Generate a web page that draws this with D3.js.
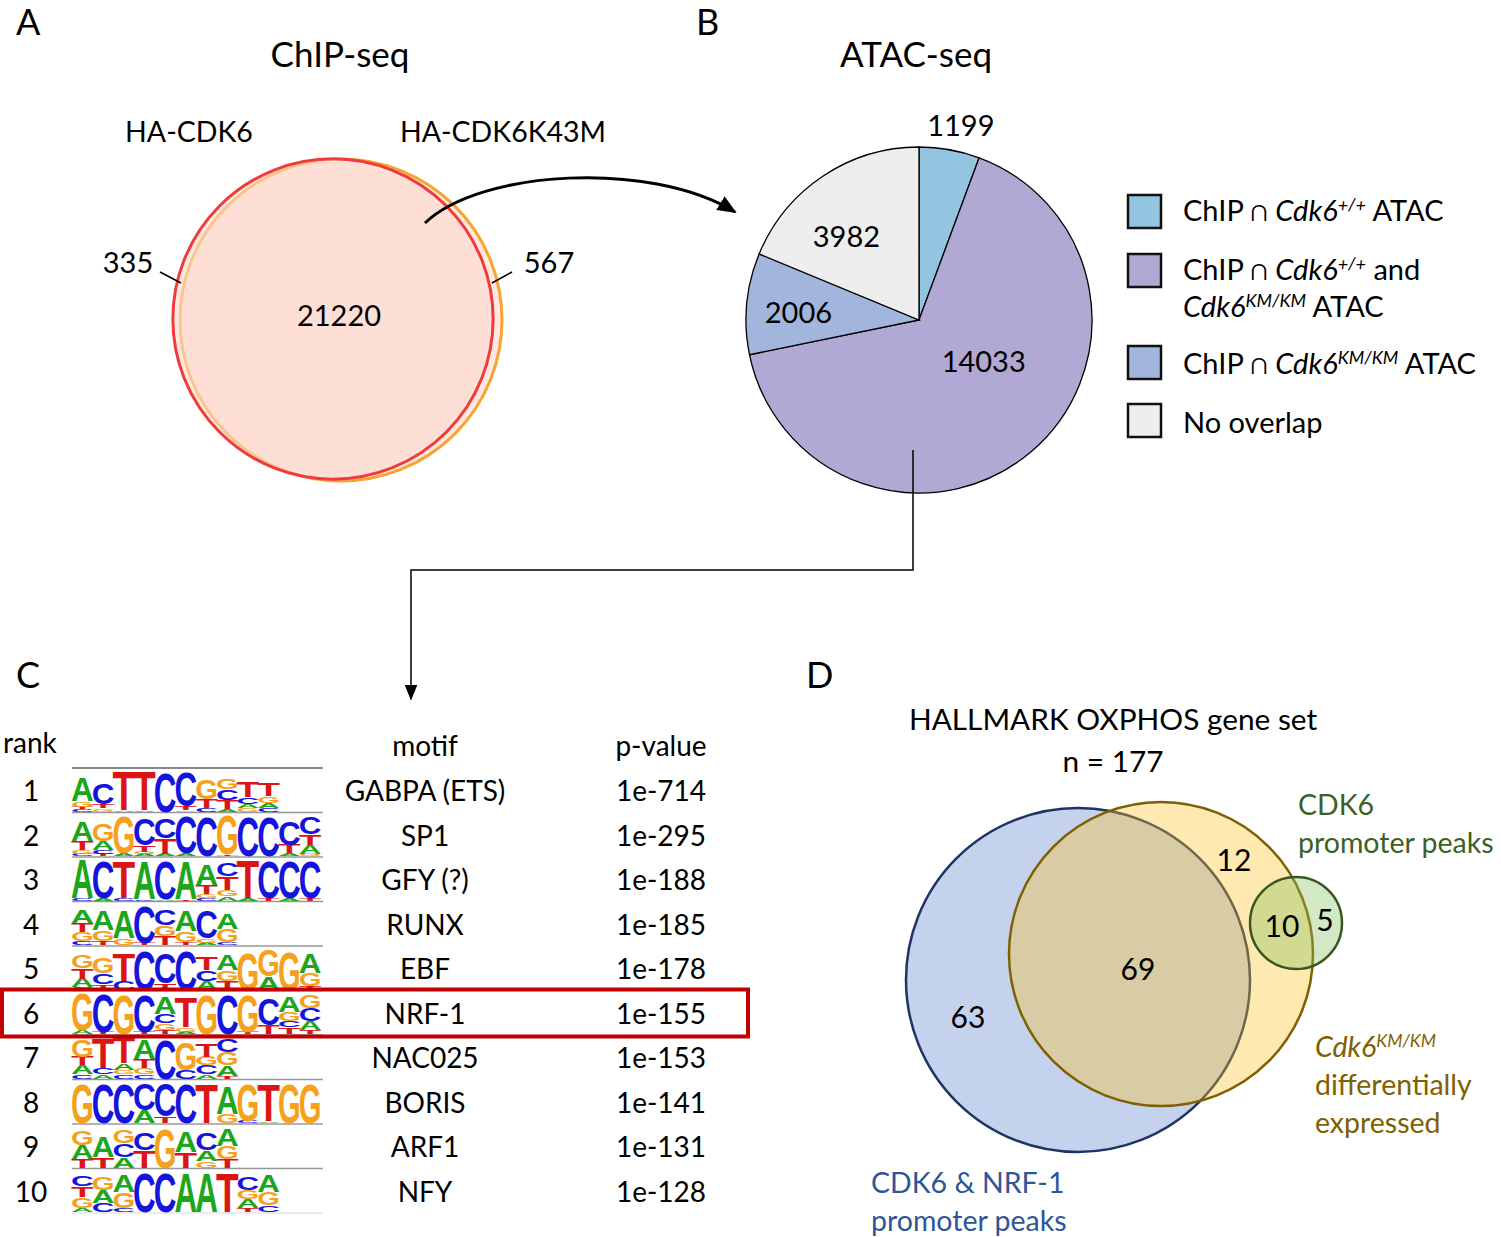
<!DOCTYPE html>
<html>
<head>
<meta charset="utf-8">
<script src="https://cdn.jsdelivr.net/npm/d3@7"></script>
<style>
body { margin: 0; background: #fff; }
text { font-family: Lato, "Open Sans", sans-serif; fill: #000; }
</style>
</head>
<body>
<div id="fig"></div>
<script>
// ---- panel A: ChIP-seq overlap
var chipSets = ['HA-CDK6', 'HA-CDK6K43M'];
var chipOnlyWt = 335, chipShared = 21220, chipOnlyKm = 567;

// ---- panel B: ATAC overlap pie
var atacCounts = [1199, 14033, 2006, 3982];
var atacColors = ['#93c4e0', '#b1a8d4', '#a2b6dd', '#eeeeee'];
var atacLegend = [
	[['ChIP \u2229 '], ['Cdk6', 'i'], ['+/+', 'is'], [' ATAC']],
	[['ChIP \u2229 '], ['Cdk6', 'i'], ['+/+', 'is'], [' and']],
	[['Cdk6', 'i'], ['KM/KM', 'is'], [' ATAC']],
	[['ChIP \u2229 '], ['Cdk6', 'i'], ['KM/KM', 'is'], [' ATAC']],
	[['No overlap']]
];

// ---- panel C: motif table
var motifRanks = [1, 2, 3, 4, 5, 6, 7, 8, 9, 10];
var motifNames = ['GABPA (ETS)', 'SP1', 'GFY (?)', 'RUNX', 'EBF', 'NRF-1', 'NAC025', 'BORIS', 'ARF1', 'NFY'];
var motifPvalues = ['1e-714', '1e-295', '1e-188', '1e-185', '1e-178', '1e-155', '1e-153', '1e-141', '1e-131', '1e-128'];
// each column: letters top to bottom with height (% of full column)
var motifLogos = [
	'A55G12T06C05 C50T10G07 T90A04 T90A03 C92 C80T08G04 G45T20C08 G24C24T22A05 T35C16A10G08 T30G16A12C08',
	'A45T20G08C05 G40A20C08T05 G85A06 C60T15G05A05 C45T35A05 C85A07 C90 G90T04 C92 C90 C55T20A06 C40T25A20G05',
	'A90C05 C85A05 T85C06 A88C03 C88A04 A88T04 A50T20G10C05 C30T30G15A10 T88A05 C85T05 C85A05 C85T05',
	'A30T20G20C10 A45G25T10 A65G15 C85T05 C35G25T20 A50G25T07 C65G10A05 A35G30C07',
	'G30T25A20C05 G35C25T12 T65C20 C90 C70T15 C90 T30C25A20 A35G25T20 G85 G60A30 G88 A45G30T08',
	'G85A10 C88T05 G90 C85T05 A40C20G15T10 T70G10A05 G90 C90 G85T05 C60T20 A35G20C15T15 G30C30A20T10',
	'G40T20A20C10 T70C15A10 T60A15G10C10 A45T20G15C10 C90 G65C20 T30G20C20A10 C30G30A25T05',
	'G90 C90 C90 C60A30 C75T15 C90 T90 A65G20 G85C05 T85A04 G90 G90',
	'G33A32T20 A50T25 G30C30A25 C40T40 G90 A50T35 C40A25G15 A40G30T20',
	'C25T25G25A10 G30A30C20 A40G35C10 C90 C90 A90 A90 T90 C30G20A20T10 A40G30C15'
];

// ---- panel D: OXPHOS gene set overlap
var oxphosTitle = ['HALLMARK OXPHOS gene set', 'n = 177'];
var oxphosCounts = [63, 69, 12, 10, 5]; // NRF-1 only, NRF-1 & DE, DE only, DE & CDK6, CDK6 only

var W = 1501, H = 1237;
var svg = d3.select('#fig').append('svg')
	.attr('width', W)
	.attr('height', H);

var defs = svg.append('defs');
function addMarker(id, len, wid) {
	defs.append('marker')
		.attr('id', id)
		.attr('viewBox', '0 0 10 10')
		.attr('refX', 9).attr('refY', 5)
		.attr('markerUnits', 'userSpaceOnUse')
		.attr('markerWidth', len).attr('markerHeight', wid)
		.attr('orient', 'auto')
		.attr('preserveAspectRatio', 'none')
		.append('path')
		.attr('d', 'M0,0 L10,5 L0,10 z')
		.attr('fill', '#000');
}
addMarker('arrowBig', 19, 16);
addMarker('arrowSmall', 16, 13);

function label(x, y, txt, size, anchor) {
	return svg.append('text')
		.attr('x', x).attr('y', y)
		.attr('font-size', size)
		.attr('text-anchor', anchor || 'start')
		.text(txt);
}

// rich text with italics and superscripts
function richText(x, y, segs, size, color) {
	var t = svg.append('text')
		.attr('x', x).attr('y', y)
		.attr('font-size', size);
	if (color) t.style('fill', color);
	var shift = size * 0.36;
	var up = false;
	segs.forEach(function(s) {
		var style = s[1] || '';
		var ts = t.append('tspan').text(s[0]);
		if (color) ts.style('fill', color);
		if (style.indexOf('i') >= 0) ts.attr('font-style', 'italic');
		if (style.indexOf('s') >= 0) {
			ts.attr('font-size', size * 0.62).attr('dy', -shift);
			up = true;
		} else if (up) {
			ts.attr('dy', shift);
			up = false;
		}
	});
	return t;
}

// panel letters
label(16, 35, 'A', 36);
label(696, 35, 'B', 36);
label(16, 688, 'C', 36);
label(806, 688, 'D', 36);

// ================= A: Venn of ChIP peaks
label(340, 67, 'ChIP-seq', 35, 'middle');
label(189, 142, chipSets[0], 28.5, 'middle');
label(503, 142, chipSets[1], 28.5, 'middle');

var rScaleA = d3.scaleSqrt()
	.domain([0, chipShared + chipOnlyKm])
	.range([0, 161]);
var chipCircles = [
	{n: chipShared + chipOnlyKm, cx: 341, cy: 320, stroke: '#f6a533'},
	{n: chipShared + chipOnlyWt, cx: 333, cy: 319, stroke: '#f03b3b'}
];
svg.append('g')
	.selectAll('circle')
	.data(chipCircles)
	.enter()
	.append('circle')
	.attr('cx', d => d.cx)
	.attr('cy', d => d.cy)
	.attr('r', d => rScaleA(d.n))
	.attr('fill', '#fdd8cd')
	.attr('fill-opacity', 0.6)
	.attr('stroke', d => d.stroke)
	.attr('stroke-width', 3);

label(339, 326, d3.format('d')(chipShared), 29, 'middle');
label(128, 273, chipOnlyWt, 29, 'middle');
label(549, 273, chipOnlyKm, 29, 'middle');
svg.append('path').attr('d', 'M160,272 L181,283').attr('stroke', '#000').attr('stroke-width', 1.5);
svg.append('path').attr('d', 'M512,272 L492,283').attr('stroke', '#000').attr('stroke-width', 1.5);

svg.append('path')
	.attr('d', 'M425,223 C480,170 650,160 735,212')
	.attr('fill', 'none')
	.attr('stroke', '#000')
	.attr('stroke-width', 3)
	.attr('marker-end', 'url(#arrowBig)');

// ================= B: pie of ATAC overlap
label(916, 67, 'ATAC-seq', 35, 'middle');
var pieR = 173;
var pieG = svg.append('g').attr('transform', 'translate(919,320)');
var pie = d3.pie().sort(null).value(d => d);
var arc = d3.arc().innerRadius(0).outerRadius(pieR);
var arcs = pie(atacCounts);
pieG.selectAll('path')
	.data(arcs)
	.enter()
	.append('path')
	.attr('d', arc)
	.attr('fill', (d, i) => atacColors[i])
	.attr('stroke', '#000')
	.attr('stroke-width', 1.3);

// label radius per slice (fraction of pie radius) and small nudges
var pieLabelR = [1.14, 0.45, 0.7, 0.64];
var pieLabelNudge = [[7, 0], [14, -18], [0, 4], [-11, 9]];
pieG.selectAll('text')
	.data(arcs)
	.enter()
	.append('text')
	.attr('transform', function(d, i) {
		var c = d3.arc().innerRadius(pieR * pieLabelR[i]).outerRadius(pieR * pieLabelR[i]).centroid(d);
		return 'translate(' + (c[0] + pieLabelNudge[i][0]) + ',' + (c[1] + pieLabelNudge[i][1]) + ')';
	})
	.attr('text-anchor', 'middle')
	.attr('dy', '0.36em')
	.attr('font-size', 29)
	.text(d => d.data);

// legend
var legendBoxY = [211, 270, 362, 420];
var legendTextY = [221, 280, 317, 374, 433];
atacColors.forEach(function(c, i) {
	svg.append('rect')
		.attr('x', 1128).attr('y', legendBoxY[i] - 16)
		.attr('width', 33).attr('height', 33)
		.attr('fill', c)
		.attr('stroke', '#111')
		.attr('stroke-width', 2.5);
});
atacLegend.forEach(function(segs, i) {
	richText(1183, legendTextY[i], segs, 29);
});

// connector from the shared slice down to the motif table
svg.append('path')
	.attr('d', 'M913,450 V570 H411 V699')
	.attr('fill', 'none')
	.attr('stroke', '#000')
	.attr('stroke-width', 1.5)
	.attr('marker-end', 'url(#arrowSmall)');

// ================= C: motif table
var rowY = d3.scaleLinear().domain([1, 10]).range([768, 1168.5]);
var colW = 20.7;
var letterH = d3.scaleLinear().domain([0, 1]).range([0, 44]);
var baseColor = {A: '#1ba61b', C: '#1414dc', G: '#f6a11c', T: '#db1515'};
var logoX = 72;

label(3, 753, 'rank', 28);
label(425, 756, 'motif', 28, 'middle');
label(661, 756, 'p-value', 28, 'middle');

var rows = svg.append('g')
	.selectAll('g')
	.data(motifRanks)
	.enter()
	.append('g');

rows.append('line')
	.attr('x1', logoX).attr('x2', 323)
	.attr('y1', d => rowY(d)).attr('y2', d => rowY(d))
	.attr('stroke', (d, i) => i == 0 ? '#888' : '#999')
	.attr('stroke-width', (d, i) => i == 0 ? 2 : 1.5);

rows.append('text')
	.attr('x', 31)
	.attr('y', d => rowY(d) + 33)
	.attr('text-anchor', 'middle')
	.attr('font-size', 28)
	.text(d => d);
rows.append('text')
	.attr('x', 425)
	.attr('y', d => rowY(d) + 33)
	.attr('text-anchor', 'middle')
	.attr('font-size', 28)
	.text((d, i) => motifNames[i]);
rows.append('text')
	.attr('x', 661)
	.attr('y', d => rowY(d) + 33)
	.attr('text-anchor', 'middle')
	.attr('font-size', 28)
	.text((d, i) => motifPvalues[i]);

svg.append('line')
	.attr('x1', logoX).attr('x2', 323)
	.attr('y1', rowY(11)).attr('y2', rowY(11))
	.attr('stroke', '#e4e4e4').attr('stroke-width', 1.5);

motifLogos.forEach(function(logo, r) {
	var bottom = rowY(motifRanks[r]) + 43.5;
	logo.split(' ').forEach(function(col, c) {
		var stack = Array.from(col.matchAll(/([ACGT])(\d+)/g), m => ({base: m[1], h: +m[2] / 100}));
		var y = bottom;
		stack.slice().reverse().forEach(function(s) {
			var h = letterH(s.h);
			svg.append('g')
				.attr('transform', 'translate(' + (logoX + c * colW) + ',' + y + ') scale(1,' + (h / 72.5) + ')')
				.append('text')
				.attr('x', -1).attr('y', 0)
				.attr('font-size', 100)
				.attr('font-weight', 'bold')
				.attr('textLength', colW + 2)
				.attr('lengthAdjust', 'spacingAndGlyphs')
				.style('font-family', '"Liberation Sans", Arial, sans-serif')
				.style('fill', baseColor[s.base])
				.text(s.base);
			y -= h;
		});
	});
});

// highlight NRF-1
svg.append('rect')
	.attr('x', 2).attr('y', rowY(6) - 1)
	.attr('width', 746).attr('height', 47)
	.attr('fill', 'none')
	.attr('stroke', '#c00000')
	.attr('stroke-width', 4);

// ================= D: OXPHOS Venn
label(1113, 730, oxphosTitle[0], 29.8, 'middle');
label(1113, 772, oxphosTitle[1], 29.8, 'middle');

var vennD = [
	{cx: 1078, cy: 980, r: 172, fill: '#c5d2ee', op: 1, stroke: '#1f3464'},
	{cx: 1161, cy: 954, r: 152, fill: '#fcc323', op: 0.36, stroke: '#7f6000'},
	{cx: 1296, cy: 923, r: 46, fill: '#86be5e', op: 0.36, stroke: '#385723'}
];
svg.append('g')
	.selectAll('circle')
	.data(vennD)
	.enter()
	.append('circle')
	.attr('cx', d => d.cx)
	.attr('cy', d => d.cy)
	.attr('r', d => d.r)
	.attr('fill', d => d.fill)
	.attr('fill-opacity', d => d.op)
	.attr('stroke', d => d.stroke)
	.attr('stroke-width', 2.5);

var vennLabelPos = [[968, 1017], [1138, 969], [1234, 860], [1282, 926], [1325, 920]];
svg.append('g')
	.selectAll('text')
	.data(oxphosCounts)
	.enter()
	.append('text')
	.attr('x', (d, i) => vennLabelPos[i][0])
	.attr('y', (d, i) => vennLabelPos[i][1])
	.attr('dy', '0.36em')
	.attr('text-anchor', 'middle')
	.attr('font-size', 30)
	.text(d => d);

richText(1298, 815, [['CDK6']], 28.5, '#3b6125');
richText(1298, 853, [['promoter peaks']], 28.5, '#3b6125');
richText(1315, 1057, [['Cdk6', 'i'], ['KM/KM', 'is']], 28.5, '#7f6000');
richText(1315, 1095, [['differentially']], 28.5, '#7f6000');
richText(1315, 1133, [['expressed']], 28.5, '#7f6000');
richText(871, 1193, [['CDK6 & NRF-1']], 28.5, '#2f5597');
richText(871, 1231, [['promoter peaks']], 28.5, '#2f5597');
</script>
</body>
</html>
